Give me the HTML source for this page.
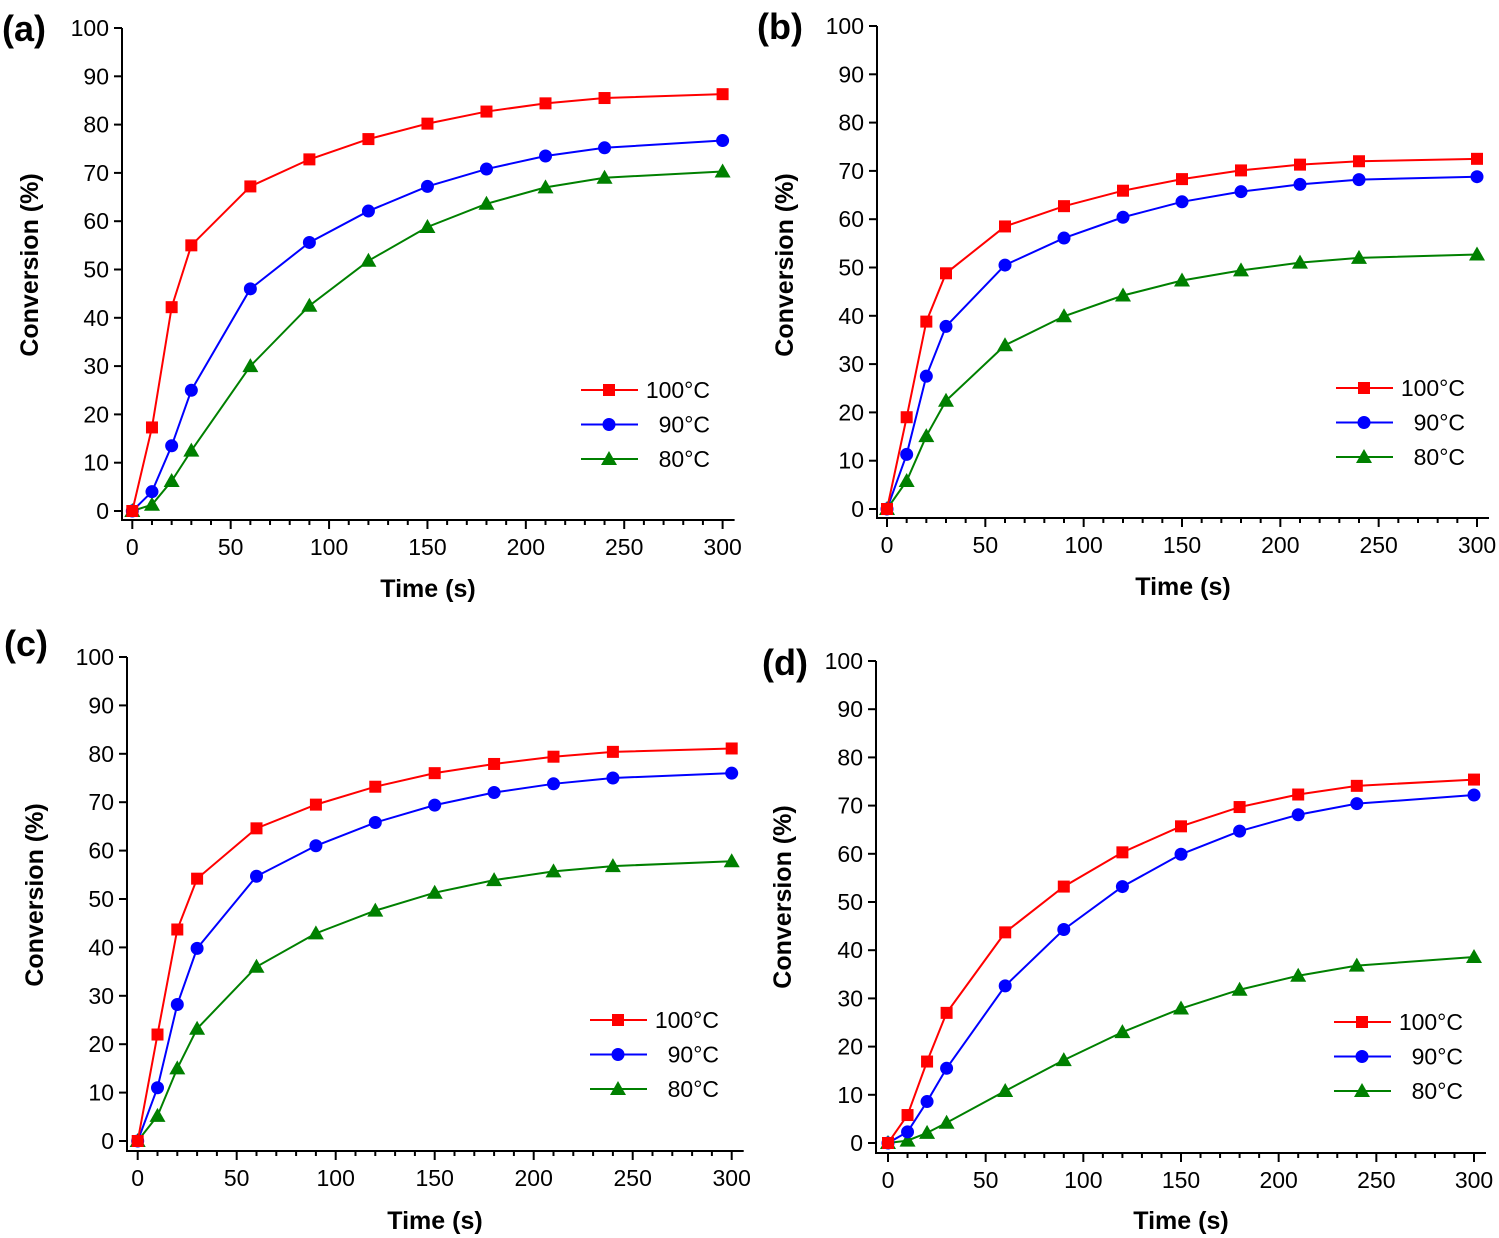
<!DOCTYPE html>
<html><head><meta charset="utf-8"><style>
body{margin:0;background:#fff;}
svg{display:block;font-family:"Liberation Sans",Arial,sans-serif;}
</style></head><body>
<svg id="fig" width="1499" height="1238" viewBox="0 0 1499 1238" xmlns="http://www.w3.org/2000/svg"></svg>
<script>
const times = [0,10,20,30,60,90,120,150,180,210,240,300];
const yTicks = [0,10,20,30,40,50,60,70,80,90,100];
const xTicks = [0,50,100,150,200,250,300];
const seriesNames = ["100°C","90°C","80°C"];
const a100 = [0,17.3,42.2,55,67.2,72.8,77,80.2,82.7,84.4,85.5,86.3];
const a90  = [0,4,13.5,25,46,55.6,62.1,67.2,70.8,73.5,75.2,76.7];
const a80  = [0,1.3,6.2,12.5,30,42.5,51.8,58.8,63.6,67,69,70.3];
const b100 = [0,19,38.8,48.8,58.5,62.7,65.9,68.3,70.1,71.3,72,72.5];
const b90  = [0,11.3,27.5,37.8,50.5,56.1,60.4,63.6,65.7,67.2,68.2,68.8];
const b80  = [0,5.8,15.1,22.4,33.9,39.9,44.2,47.3,49.4,51,52,52.7];
const c100 = [0,22,43.7,54.2,64.6,69.5,73.2,76,77.9,79.4,80.4,81.1];
const c90  = [0,11,28.2,39.8,54.7,61,65.8,69.4,72,73.8,75,76];
const c80  = [0,5.2,15,23.2,36,42.9,47.6,51.3,53.9,55.7,56.8,57.8];
const d100 = [0,5.8,16.9,27,43.7,53.2,60.3,65.7,69.7,72.3,74.1,75.4];
const d90  = [0,2.3,8.6,15.5,32.6,44.3,53.2,59.9,64.7,68.1,70.4,72.2];
const d80  = [0,0.5,2.1,4.2,10.8,17.2,23,27.9,31.8,34.7,36.8,38.6];

const NS="http://www.w3.org/2000/svg";
const svg=document.getElementById('fig');
function mk(tag,attrs,parent){const e=document.createElementNS(NS,tag);for(const k in attrs)e.setAttribute(k,attrs[k]);(parent||svg).appendChild(e);return e;}
const colors=["#ff0000","#0000ff","#008000"];
const panels=[
 {id:'a',data:[a100,a90,a80],x0:132.3,x1:722.6,y0:511,y1:28,ax:122,axl:520,lab:[2,40],yt:[30,265],xt:[428,597],lg:[581,390]},
 {id:'b',data:[b100,b90,b80],x0:887,x1:1477,y0:509,y1:26,ax:877,axl:518,lab:[757,38],yt:[785,265],xt:[1183,595],lg:[1336,388]},
 {id:'c',data:[c100,c90,c80],x0:137.7,x1:731.7,y0:1141,y1:657,ax:127,axl:1151,lab:[4,655],yt:[35,895],xt:[435,1229],lg:[590,1020]},
 {id:'d',data:[d100,d90,d80],x0:888,x1:1474,y0:1143,y1:661,ax:876,axl:1153,lab:[762,674],yt:[783,897],xt:[1181,1229],lg:[1334,1022]}
];
function marker(g,k,x,y){
  let m;
  if(k===0) m=mk('rect',{x:x-6,y:y-6,width:12,height:12,fill:colors[0]},g);
  else if(k===1) m=mk('circle',{cx:x,cy:y,r:6.5,fill:colors[1]},g);
  else m=mk('polygon',{points:`${x},${y-8} ${x+8},${y+6} ${x-8},${y+6}`,fill:colors[2]},g);
  return m;
}
panels.forEach(p=>{
  const g=mk('g',{});
  
  
  const X=v=>p.x0+(p.x1-p.x0)*v/300;
  const Y=v=>p.y0+(p.y1-p.y0)*v/100;
  const ax=mk('g',{stroke:'#000','stroke-width':2,fill:'none'},g);
  
  
  mk('line',{x1:p.ax,y1:p.y1,x2:p.ax,y2:p.axl+1},ax);
  mk('line',{x1:p.ax-1,y1:p.axl,x2:X(300)+12,y2:p.axl},ax);
  yTicks.forEach(t=>{
    mk('line',{x1:p.ax-8,y1:Y(t),x2:p.ax,y2:Y(t)},ax);
    const tx=mk('text',{x:p.ax-13,y:Y(t)+8,'font-size':23,'text-anchor':'end',fill:'#000',stroke:'none'},g);
    tx.textContent=t;
    
    
  });
  for(let v=0;v<=300;v+=10){
    const major=v%50===0;
    mk('line',{x1:X(v),y1:p.axl,x2:X(v),y2:p.axl+(major?9:5)},ax);
  }
  xTicks.forEach(t=>{
    const tx=mk('text',{x:X(t),y:p.axl+35,'font-size':23,'text-anchor':'middle',fill:'#000'},g);
    tx.textContent=t;
    
    
  });
  const yl=mk('text',{x:p.yt[0]+8,y:p.yt[1],'font-size':25,'font-weight':'bold','text-anchor':'middle',transform:`rotate(-90 ${p.yt[0]+8} ${p.yt[1]})`},g);
  yl.textContent='Conversion (%)';
  
  
  const xl=mk('text',{x:p.xt[0],y:p.xt[1],'font-size':25,'font-weight':'bold','text-anchor':'middle'},g);
  xl.textContent='Time (s)';
  
  
  const pl=mk('text',{x:p.lab[0],y:p.lab[1]+1,'font-size':36,'font-weight':'bold'},g);
  pl.textContent='('+p.id+')';
  
  
  [2,1,0].forEach(k=>{
    const s=mk('g',{},g);
    
    
    const pts=times.map((t,i)=>X(t)+','+Y(p.data[k][i])).join(' ');
    mk('polyline',{points:pts,fill:'none',stroke:colors[k],'stroke-width':2},s);
    times.forEach((t,i)=>{
      const m=marker(s,k,X(t),Y(p.data[k][i]));
      
      
    });
  });
  seriesNames.forEach((n,k)=>{
    const lg=mk('g',{},g);
    
    
    const ly=p.lg[1]+k*34.5;
    mk('line',{x1:p.lg[0],y1:ly,x2:p.lg[0]+57,y2:ly,stroke:colors[k],'stroke-width':2},lg);
    marker(lg,k,p.lg[0]+28,ly);
    const t=mk('text',{x:p.lg[0]+129,y:ly+8,'font-size':23,'text-anchor':'end'},lg);
    t.textContent=n;
  });
});
</script>
</body></html>
